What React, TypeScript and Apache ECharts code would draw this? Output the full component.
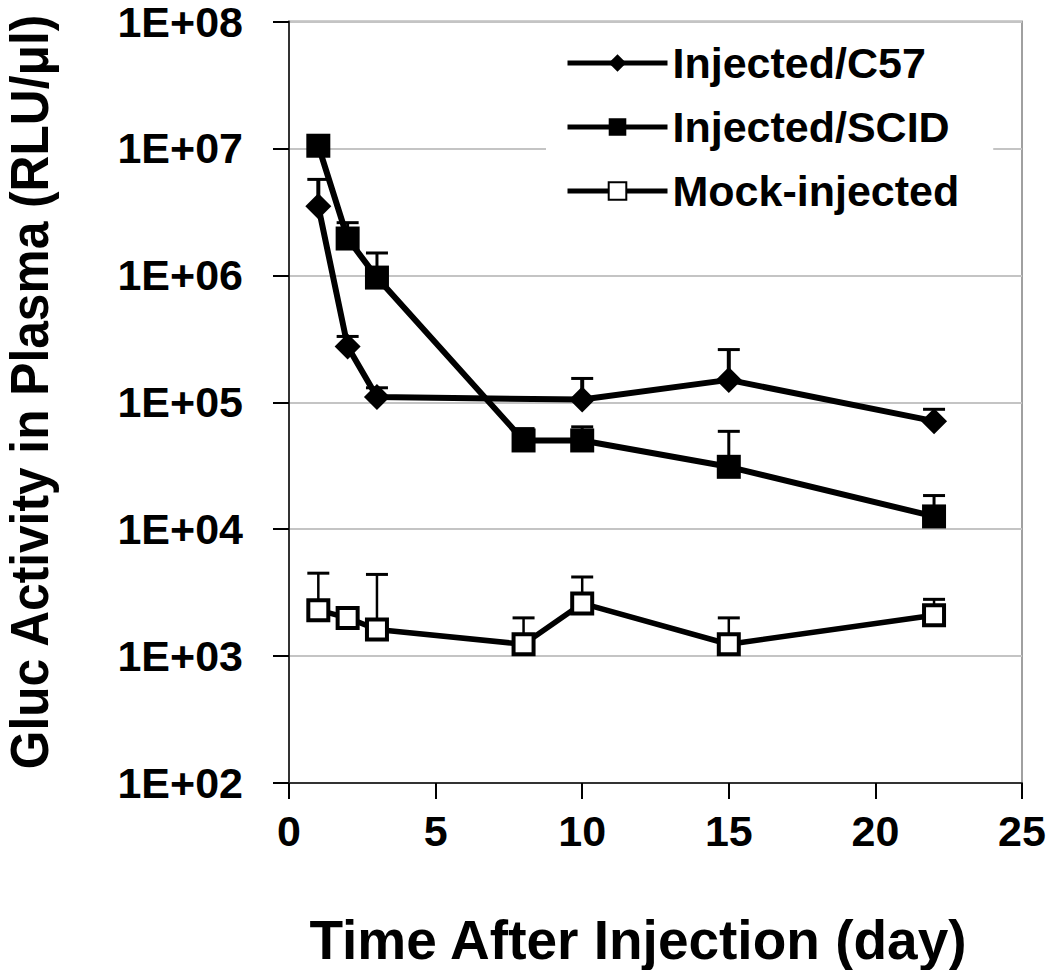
import React, { useEffect, useRef } from "react";
import * as echarts from "echarts";

const seriesNames = ["Injected/C57", "Injected/SCID", "Mock-injected"];

const c57Days = [1, 2, 3, 10, 15, 22];
const c57Values = [3.5e6, 2.75e5, 1.1e5, 1.05e5, 1.5e5, 7.1e4];
const c57Upper = [5.7e6, 3.3e5, 1.3e5, 1.54e5, 2.6e5, 8.8e4];

const scidDays = [1, 2, 3, 8, 10, 15, 22];
const scidValues = [1.05e7, 1.95e6, 9.6e5, 5.0e4, 5.0e4, 3.1e4, 1.26e4];
const scidUpper = [1.25e7, 2.6e6, 1.5e6, 6.2e4, 6.4e4, 5.9e4, 1.84e4];

const mockDays = [1, 2, 3, 8, 10, 15, 22];
const mockValues = [2.3e3, 2.0e3, 1.62e3, 1.24e3, 2.6e3, 1.24e3, 2.1e3];
const mockUpper = [4.5e3, 2.2e3, 4.4e3, 2.0e3, 4.2e3, 2.0e3, 2.8e3];

const xTitle = "Time After Injection (day)";
const yTitle = "Gluc Activity in Plasma (RLU/μl)";

const FONT = "'Liberation Sans', Arial, Helvetica, sans-serif";

function pairs(days: number[], vals: number[]) {
  return days.map((d, i) => [d, vals[i]]);
}
function errData(days: number[], vals: number[], upper: number[]) {
  return days.map((d, i) => [d, vals[i], upper[i]]);
}

function errorSeries(data: number[][], lw: number) {
  return {
    type: "custom",
    z: 1,
    silent: true,
    data,
    encode: { x: 0, y: [1, 2] },
    renderItem: (params: any, api: any) => {
      const x = api.value(0);
      const y = api.value(1);
      const hi = api.value(2);
      const p0 = api.coord([x, y]);
      const p1 = api.coord([x, hi]);
      const hw = 11;
      return {
        type: "group",
        children: [
          {
            type: "line",
            shape: { x1: p0[0], y1: p0[1], x2: p1[0], y2: p1[1] },
            style: { stroke: "#000", lineWidth: lw },
          },
          {
            type: "line",
            shape: { x1: p1[0] - hw, y1: p1[1], x2: p1[0] + hw, y2: p1[1] },
            style: { stroke: "#000", lineWidth: 3 },
          },
        ],
      };
    },
  };
}

export default function App() {
  const ref = useRef<HTMLDivElement>(null);
  useEffect(() => {
    document.body.style.margin = "0";
    const chart = echarts.init(ref.current!, null, { renderer: "svg" });
    chart.setOption({
      animation: false,
      backgroundColor: "#fff",
      grid: {
        left: 289,
        top: 14,
        right: 28,
        bottom: 187,
        show: true,
        borderColor: "#a0a0a0",
        borderWidth: 2,
        backgroundColor: "transparent",
      },
      legend: {
        data: seriesNames,
        orient: "vertical",
        left: 546,
        top: 33,
        padding: [8, 34, 8, 19],
        backgroundColor: "#fff",
        itemWidth: 100,
        itemHeight: 22,
        itemGap: 20,
        lineStyle: { width: 5, color: "#000" },
        textStyle: {
          fontFamily: FONT,
          fontWeight: "bold",
          fontSize: 43,
          lineHeight: 44,
          color: "#000",
        },
      },
      xAxis: {
        type: "value",
        min: 0,
        max: 25,
        interval: 5,
        axisLine: { show: true, lineStyle: { color: "#333", width: 2 } },
        axisTick: { show: true, inside: false, length: 16, lineStyle: { color: "#000", width: 2 } },
        splitLine: { show: false },
        axisLabel: {
          margin: 26,
          fontFamily: FONT,
          fontWeight: "bold",
          fontSize: 43,
          lineHeight: 43,
          color: "#000",
        },
      },
      yAxis: {
        type: "log",
        logBase: 10,
        min: 100,
        max: 1e8,
        axisLine: { show: true, lineStyle: { color: "#333", width: 2 } },
        axisTick: { show: true, inside: false, length: 16, lineStyle: { color: "#000", width: 2 } },
        splitLine: { show: true, lineStyle: { color: "#c4c4c4", width: 2 } },
        minorTick: { show: false },
        axisLabel: {
          margin: 46,
          fontFamily: FONT,
          fontWeight: "bold",
          fontSize: 43,
          lineHeight: 28,
          color: "#000",
          formatter: (v: number) => {
            const e = Math.round(Math.log10(v));
            return "1E+" + String(e).padStart(2, "0");
          },
        },
      },
      series: [
        errorSeries(errData(c57Days, c57Values, c57Upper), 4),
        errorSeries(errData(scidDays, scidValues, scidUpper), 3),
        errorSeries(errData(mockDays, mockValues, mockUpper), 2.5),
        {
          name: seriesNames[0],
          type: "line",
          z: 3,
          data: pairs(c57Days, c57Values),
          symbol: "diamond",
          symbolSize: 26,
          showAllSymbol: true,
          itemStyle: { color: "#000" },
          lineStyle: { color: "#000", width: 6 },
        },
        {
          name: seriesNames[1],
          type: "line",
          z: 3,
          data: pairs(scidDays, scidValues),
          symbol: "rect",
          symbolSize: 24,
          showAllSymbol: true,
          itemStyle: { color: "#000" },
          lineStyle: { color: "#000", width: 6 },
        },
        {
          name: seriesNames[2],
          type: "line",
          z: 3,
          data: pairs(mockDays, mockValues),
          symbol: "rect",
          symbolSize: 20,
          showAllSymbol: true,
          itemStyle: { color: "#fff", borderColor: "#000", borderWidth: 4 },
          lineStyle: { color: "#000", width: 5.5 },
        },
      ],
      graphic: [
        {
          type: "text",
          x: 638,
          y: 940,
          style: {
            text: xTitle,
            font: `bold 55px ${FONT}`,
            fill: "#000",
            align: "center",
            verticalAlign: "middle",
          },
        },
        {
          type: "text",
          x: 29,
          y: 392,
          rotation: Math.PI / 2,
          scaleX: 0.92,
          style: {
            text: yTitle,
            font: `bold 54px ${FONT}`,
            fill: "#000",
            align: "center",
            verticalAlign: "middle",
          },
        },
      ],
    });
    return () => chart.dispose();
  }, []);
  return <div ref={ref} style={{ width: 1050, height: 970 }} />;
}
